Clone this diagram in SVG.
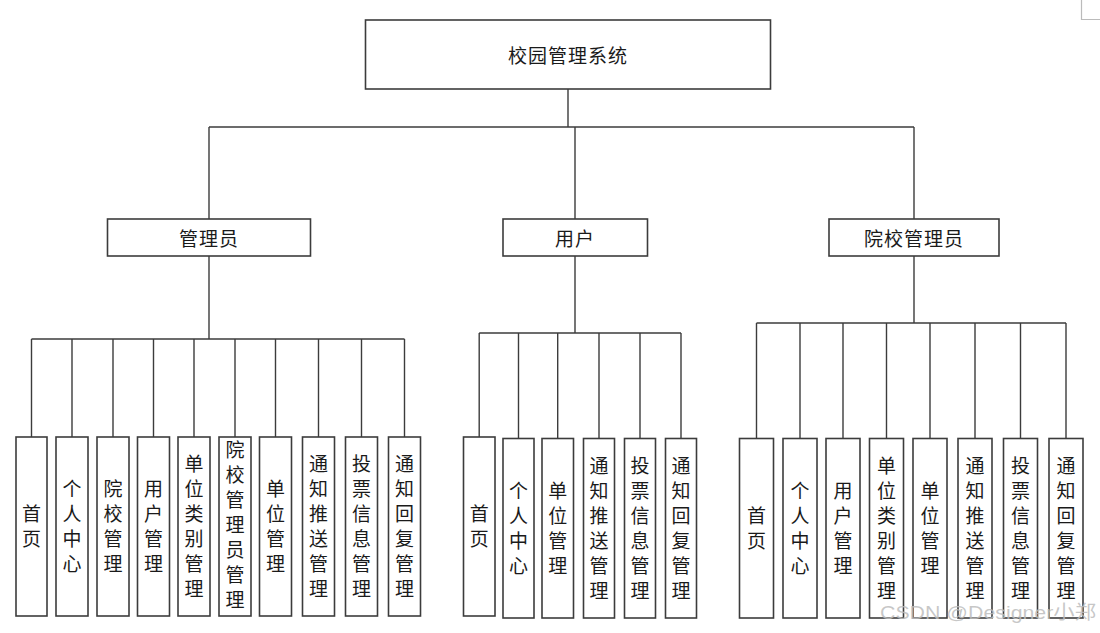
<svg xmlns="http://www.w3.org/2000/svg" width="1100" height="633" viewBox="0 0 1100 633">
<style>
.box{fill:#fff;stroke:#3c3c3c;stroke-width:1.6}
.ln{stroke:#3c3c3c;stroke-width:1.4;fill:none}
.t{font-family:"Noto Sans CJK SC","Liberation Sans",sans-serif;font-size:19px;fill:#1a1a1a;text-anchor:middle}
.h{font-family:"Noto Sans CJK SC","Liberation Sans",sans-serif;font-size:19px;fill:#1a1a1a;text-anchor:middle;dominant-baseline:central}
.wm{font-family:"Liberation Sans","Noto Sans CJK SC",sans-serif;font-size:19px;fill:#bdbdbd;fill-opacity:0.85}
</style>
<rect width="1100" height="633" fill="#fff"/>
<path d="M1081.5 0V19.5H1100" stroke="#bbb" stroke-width="1.2" fill="none"/>

<g id="connectors">
<path class="ln" d="M568 89V127M209 127H914M209 127V219M575 127V219M914 127V219"/>
<path class="ln" d="M209 256V339M31.5 339H404.5M31.5 339V437M72 339V437M113 339V437M153.5 339V437M194 339V437M235 339V437M275.5 339V437M318.5 339V437M361.5 339V437M404.5 339V437"/>
<path class="ln" d="M575 256V333M479.2 333H681M479.2 333V438.5M518.5 333V438.5M557.7 333V438.5M599 333V438.5M640 333V438.5M681 333V438.5"/>
<path class="ln" d="M914 256V323M756.5 323H1066M756.5 323V438.5M800 323V438.5M843 323V438.5M886.5 323V438.5M930 323V438.5M975 323V438.5M1020.5 323V438.5M1066 323V438.5"/>
</g>

<g id="root"><rect class="box" x="365.5" y="20" width="405" height="69"/><text class="h" x="568" y="54" letter-spacing="1">校园管理系统</text></g>

<g id="admin"><rect class="box" x="107.5" y="219" width="203" height="37"/><text class="h" x="209" y="237" letter-spacing="1">管理员</text></g>
<g id="user"><rect class="box" x="503" y="219" width="144.5" height="37"/><text class="h" x="575" y="237" letter-spacing="1">用户</text></g>
<g id="schooladmin"><rect class="box" x="829" y="219" width="170" height="37"/><text class="h" x="914" y="237" letter-spacing="1">院校管理员</text></g>

<g id="a1"><rect class="box" x="16" y="437" width="31" height="179"/><text class="t"><tspan x="31.5" y="521">首</tspan><tspan x="31.5" dy="25">页</tspan></text></g>
<g id="a2"><rect class="box" x="56" y="437" width="32" height="179"/><text class="t"><tspan x="72" y="496">个</tspan><tspan x="72" dy="25">人</tspan><tspan x="72" dy="25">中</tspan><tspan x="72" dy="25">心</tspan></text></g>
<g id="a3"><rect class="box" x="97" y="437" width="32" height="179"/><text class="t"><tspan x="113" y="496">院</tspan><tspan x="113" dy="25">校</tspan><tspan x="113" dy="25">管</tspan><tspan x="113" dy="25">理</tspan></text></g>
<g id="a4"><rect class="box" x="137.5" y="437" width="32" height="179"/><text class="t"><tspan x="153.5" y="496">用</tspan><tspan x="153.5" dy="25">户</tspan><tspan x="153.5" dy="25">管</tspan><tspan x="153.5" dy="25">理</tspan></text></g>
<g id="a5"><rect class="box" x="178" y="437" width="32" height="179"/><text class="t"><tspan x="194" y="471">单</tspan><tspan x="194" dy="25">位</tspan><tspan x="194" dy="25">类</tspan><tspan x="194" dy="25">别</tspan><tspan x="194" dy="25">管</tspan><tspan x="194" dy="25">理</tspan></text></g>
<g id="a6"><rect class="box" x="219" y="437" width="32" height="179"/><text class="t"><tspan x="235" y="457">院</tspan><tspan x="235" dy="25">校</tspan><tspan x="235" dy="25">管</tspan><tspan x="235" dy="25">理</tspan><tspan x="235" dy="25">员</tspan><tspan x="235" dy="25">管</tspan><tspan x="235" dy="25">理</tspan></text></g>
<g id="a7"><rect class="box" x="259.5" y="437" width="32" height="179"/><text class="t"><tspan x="275.5" y="496">单</tspan><tspan x="275.5" dy="25">位</tspan><tspan x="275.5" dy="25">管</tspan><tspan x="275.5" dy="25">理</tspan></text></g>
<g id="a8"><rect class="box" x="302.5" y="437" width="32" height="179"/><text class="t"><tspan x="318.5" y="471">通</tspan><tspan x="318.5" dy="25">知</tspan><tspan x="318.5" dy="25">推</tspan><tspan x="318.5" dy="25">送</tspan><tspan x="318.5" dy="25">管</tspan><tspan x="318.5" dy="25">理</tspan></text></g>
<g id="a9"><rect class="box" x="345.5" y="437" width="32" height="179"/><text class="t"><tspan x="361.5" y="471">投</tspan><tspan x="361.5" dy="25">票</tspan><tspan x="361.5" dy="25">信</tspan><tspan x="361.5" dy="25">息</tspan><tspan x="361.5" dy="25">管</tspan><tspan x="361.5" dy="25">理</tspan></text></g>
<g id="a10"><rect class="box" x="388.5" y="437" width="32" height="179"/><text class="t"><tspan x="404.5" y="471">通</tspan><tspan x="404.5" dy="25">知</tspan><tspan x="404.5" dy="25">回</tspan><tspan x="404.5" dy="25">复</tspan><tspan x="404.5" dy="25">管</tspan><tspan x="404.5" dy="25">理</tspan></text></g>

<g id="u1"><rect class="box" x="463.5" y="437" width="31.5" height="179"/><text class="t"><tspan x="479.2" y="521">首</tspan><tspan x="479.2" dy="25">页</tspan></text></g>
<g id="u2"><rect class="box" x="503" y="438.5" width="31" height="179.5"/><text class="t"><tspan x="518.5" y="497.5">个</tspan><tspan x="518.5" dy="25">人</tspan><tspan x="518.5" dy="25">中</tspan><tspan x="518.5" dy="25">心</tspan></text></g>
<g id="u3"><rect class="box" x="542" y="438.5" width="31.5" height="179.5"/><text class="t"><tspan x="557.7" y="497.5">单</tspan><tspan x="557.7" dy="25">位</tspan><tspan x="557.7" dy="25">管</tspan><tspan x="557.7" dy="25">理</tspan></text></g>
<g id="u4"><rect class="box" x="583.5" y="438.5" width="31" height="179.5"/><text class="t"><tspan x="599" y="472.5">通</tspan><tspan x="599" dy="25">知</tspan><tspan x="599" dy="25">推</tspan><tspan x="599" dy="25">送</tspan><tspan x="599" dy="25">管</tspan><tspan x="599" dy="25">理</tspan></text></g>
<g id="u5"><rect class="box" x="624.5" y="438.5" width="31" height="179.5"/><text class="t"><tspan x="640" y="472.5">投</tspan><tspan x="640" dy="25">票</tspan><tspan x="640" dy="25">信</tspan><tspan x="640" dy="25">息</tspan><tspan x="640" dy="25">管</tspan><tspan x="640" dy="25">理</tspan></text></g>
<g id="u6"><rect class="box" x="665.5" y="438.5" width="31" height="179.5"/><text class="t"><tspan x="681" y="472.5">通</tspan><tspan x="681" dy="25">知</tspan><tspan x="681" dy="25">回</tspan><tspan x="681" dy="25">复</tspan><tspan x="681" dy="25">管</tspan><tspan x="681" dy="25">理</tspan></text></g>

<g id="s1"><rect class="box" x="739.5" y="438.5" width="34" height="179.5"/><text class="t"><tspan x="756.5" y="522.5">首</tspan><tspan x="756.5" dy="25">页</tspan></text></g>
<g id="s2"><rect class="box" x="783" y="438.5" width="34" height="179.5"/><text class="t"><tspan x="800" y="497.5">个</tspan><tspan x="800" dy="25">人</tspan><tspan x="800" dy="25">中</tspan><tspan x="800" dy="25">心</tspan></text></g>
<g id="s3"><rect class="box" x="826" y="438.5" width="34" height="179.5"/><text class="t"><tspan x="843" y="497.5">用</tspan><tspan x="843" dy="25">户</tspan><tspan x="843" dy="25">管</tspan><tspan x="843" dy="25">理</tspan></text></g>
<g id="s4"><rect class="box" x="869.5" y="438.5" width="34" height="179.5"/><text class="t"><tspan x="886.5" y="472.5">单</tspan><tspan x="886.5" dy="25">位</tspan><tspan x="886.5" dy="25">类</tspan><tspan x="886.5" dy="25">别</tspan><tspan x="886.5" dy="25">管</tspan><tspan x="886.5" dy="25">理</tspan></text></g>
<g id="s5"><rect class="box" x="913" y="438.5" width="34" height="179.5"/><text class="t"><tspan x="930" y="497.5">单</tspan><tspan x="930" dy="25">位</tspan><tspan x="930" dy="25">管</tspan><tspan x="930" dy="25">理</tspan></text></g>
<g id="s6"><rect class="box" x="958" y="438.5" width="34" height="179.5"/><text class="t"><tspan x="975" y="472.5">通</tspan><tspan x="975" dy="25">知</tspan><tspan x="975" dy="25">推</tspan><tspan x="975" dy="25">送</tspan><tspan x="975" dy="25">管</tspan><tspan x="975" dy="25">理</tspan></text></g>
<g id="s7"><rect class="box" x="1003.5" y="438.5" width="34" height="179.5"/><text class="t"><tspan x="1020.5" y="472.5">投</tspan><tspan x="1020.5" dy="25">票</tspan><tspan x="1020.5" dy="25">信</tspan><tspan x="1020.5" dy="25">息</tspan><tspan x="1020.5" dy="25">管</tspan><tspan x="1020.5" dy="25">理</tspan></text></g>
<g id="s8"><rect class="box" x="1049" y="438.5" width="34" height="179.5"/><text class="t"><tspan x="1066" y="472.5">通</tspan><tspan x="1066" dy="25">知</tspan><tspan x="1066" dy="25">回</tspan><tspan x="1066" dy="25">复</tspan><tspan x="1066" dy="25">管</tspan><tspan x="1066" dy="25">理</tspan></text></g>

<text class="wm" x="880" y="619" textLength="216" lengthAdjust="spacingAndGlyphs">CSDN @Designer小郑</text>
</svg>
